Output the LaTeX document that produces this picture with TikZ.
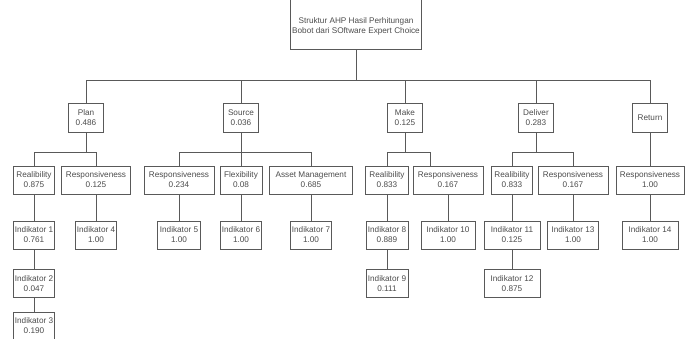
\documentclass[tikz,border=0pt]{standalone}
\usepackage{fontspec}
\setmainfont{Liberation Sans}
\usetikzlibrary{positioning, calc}
\tikzset{
    box/.style={draw=black!65, line width=0.8pt, minimum width=#1, minimum height=28pt, inner sep=1pt, align=center, text=black!70, font=\fontsize{8.2}{10}\selectfont},
    box/.default=41pt,
    line/.style={draw=black!65, line width=0.8pt},
    elbow/.style={to path={-- ++(0,#1) -| (\tikztotarget)}}
}

\begin{document}
\begin{tikzpicture}[x=1pt, y=-1pt]
    \useasboundingbox (0,0) rectangle (693,339);

    % Goal
    \node[box=131pt, minimum height=52pt] (root) at (356,23) {\rule{0pt}{12pt}Struktur AHP Hasil Perhitungan\\Bobot dari SOftware Expert Choice};

    % Criteria
    \node[box=35pt, minimum height=29pt] (plan) at (86,117.5) {Plan\\0.486};
    \node[box=35pt, minimum height=29pt] (source) at (241,117.5) {Source\\0.036};
    \node[box=35pt, minimum height=29pt] (make) at (405,117.5) {Make\\0.125};
    \node[box=35pt, minimum height=29pt] (deliver) at (536,117.5) {Deliver\\0.283};
    \node[box=35pt, minimum height=29pt] (return) at (650,117.5) {Return};

    % Sub-criteria
    \node[box=41pt] (planrel) at (34,180) {Realibility\\0.875};
    \node[box=69pt] (planresp) at (96,180) {Responsiveness\\0.125};
    \node[box=70pt] (srcresp) at (179,180) {Responsiveness\\0.234};
    \node[box=42pt] (srcflex) at (241,180) {Flexibility\\0.08};
    \node[box=83pt] (srcasset) at (311,180) {Asset Management\\0.685};
    \node[box=43pt] (makerel) at (387,180) {Realibility\\0.833};
    \node[box=70pt] (makeresp) at (448,180) {Responsiveness\\0.167};
    \node[box=41pt] (delrel) at (512,180) {Realibility\\0.833};
    \node[box=70pt] (delresp) at (573,180) {Responsiveness\\0.167};
    \node[box=68pt] (retresp) at (650,180) {Responsiveness\\1.00};

    % Indicators
    \node[box=41pt] (ind1) at (34,235) {Indikator 1\\0.761};
    \node[box=41pt] (ind2) at (34,283.5) {Indikator 2\\0.047};
    \node[box=41pt] (ind3) at (34,326) {Indikator 3\\0.190};
    \node[box=41pt] (ind4) at (96,235) {Indikator 4\\1.00};
    \node[box=43pt] (ind5) at (179,235) {Indikator 5\\1.00};
    \node[box=41pt] (ind6) at (241,235) {Indikator 6\\1.00};
    \node[box=41pt] (ind7) at (311,235) {Indikator 7\\1.00};
    \node[box=42pt] (ind8) at (387,235) {Indikator 8\\0.889};
    \node[box=42pt] (ind9) at (387,283.5) {Indikator 9\\0.111};
    \node[box=54pt] (ind10) at (448,235) {Indikator 10\\1.00};
    \node[box=56pt] (ind11) at (512,235) {Indikator 11\\0.125};
    \node[box=56pt] (ind12) at (512,283.5) {Indikator 12\\0.875};
    \node[box=51pt] (ind13) at (573,235) {Indikator 13\\1.00};
    \node[box=56pt] (ind14) at (650,235) {Indikator 14\\1.00};

    % Goal to criteria
    \draw[line] (root.south) to[elbow=31] (plan.north);
    \draw[line] (root.south) to[elbow=31] (source.north);
    \draw[line] (root.south) to[elbow=31] (make.north);
    \draw[line] (root.south) to[elbow=31] (deliver.north);
    \draw[line] (root.south) to[elbow=31] (return.north);

    % Criteria to sub-criteria
    \draw[line] (plan.south) to[elbow=20] (planrel.north);
    \draw[line] (plan.south) to[elbow=20] (planresp.north);
    \draw[line] (source.south) to[elbow=20] (srcresp.north);
    \draw[line] (source.south) -- (srcflex.north);
    \draw[line] (source.south) to[elbow=20] (srcasset.north);
    \draw[line] (make.south) to[elbow=20] (makerel.north);
    \draw[line] (make.south) to[elbow=20] ([xshift=-18pt]makeresp.north);
    \draw[line] (deliver.south) to[elbow=20] (delrel.north);
    \draw[line] (deliver.south) to[elbow=20] (delresp.north);
    \draw[line] (return) -- (retresp);

    % Sub-criteria to indicators
    \draw[line] (planrel) -- (ind1);
    \draw[line] (ind1) -- (ind2);
    \draw[line] (ind2) -- (ind3);
    \draw[line] (planresp) -- (ind4);
    \draw[line] (srcresp) -- (ind5);
    \draw[line] (srcflex) -- (ind6);
    \draw[line] (srcasset) -- (ind7);
    \draw[line] (makerel) -- (ind8);
    \draw[line] (ind8) -- (ind9);
    \draw[line] (makeresp) -- (ind10);
    \draw[line] (delrel) -- (ind11);
    \draw[line] (ind11) -- (ind12);
    \draw[line] (delresp) -- (ind13);
    \draw[line] (retresp) -- (ind14);
\end{tikzpicture}
\end{document}
